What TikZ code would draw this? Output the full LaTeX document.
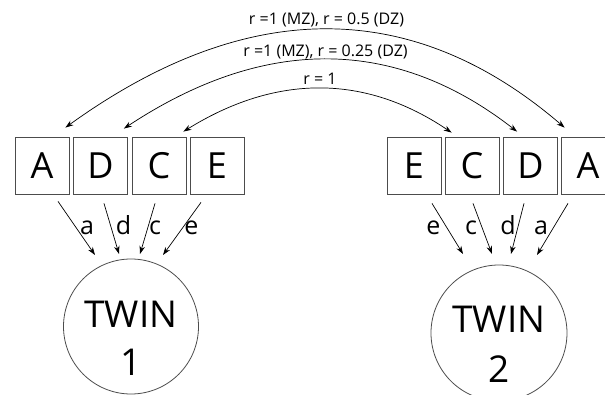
\documentclass[tikz,border=0pt]{standalone}
\usepackage{fontspec}
\setmainfont{Open Sans}
\usetikzlibrary{arrows.meta,calc}
\begin{document}
\begin{tikzpicture}[x=1pt,y=-1pt,
  box/.style={draw=black!70, line width=0.8pt, minimum width=54pt, minimum height=57pt, inner sep=0pt, font=\fontsize{36}{40}\selectfont},
  twin/.style={circle, draw=black!70, line width=0.8pt, minimum size=135pt, inner sep=0pt},
  twintxt/.style={font=\fontsize{37}{44}\selectfont, anchor=base, inner sep=0pt},
  lbl/.style={font=\fontsize{25}{30}\selectfont, anchor=base, inner sep=0pt},
  rlbl/.style={font=\fontsize{16}{19}\selectfont, anchor=base, inner sep=0pt},
  arr/.style={-{Stealth[length=8pt,width=5.5pt]}, line width=0.7pt},
  dbl/.style={{Stealth[length=8pt,width=5.5pt]}-{Stealth[length=8pt,width=5.5pt]}, line width=0.7pt}
]
\clip (0,0) rectangle (605,395);

% boxes
\node[box] (A1) at (42,165.5) {A};
\node[box] (D1) at (100.5,165.5) {D};
\node[box] (C1) at (159,165.5) {C};
\node[box] (E1) at (217,165.5) {E};
\node[box] (E2) at (414,165.5) {E};
\node[box] (C2) at (472,165.5) {C};
\node[box] (D2) at (530.5,165.5) {D};
\node[box] (A2) at (588,165.5) {A};

% twins
\node[twin] (T1) at (131,326.5) {};
\node[twin, minimum size=136pt] (T2) at (499,333) {};
\node[twintxt] (T1a) at ($(T1.center)+(0,0.5)$) {TWIN};
\node[twintxt] (T1b) at ($(T1.center)+(0,48.5)$) {1};
\node[twintxt] (T2a) at ($(T2.center)+(0,-1)$) {TWIN};
\node[twintxt] (T2b) at ($(T2.center)+(0,49)$) {2};

% paths to twin 1
\draw[arr] ($(A1.south)+(16,7)$) -- ($(T1.center)+(-36,-71.5)$);
\draw[arr] ($(D1.south)+(3.5,9)$) -- ($(T1.center)+(-12,-72.5)$);
\draw[arr] ($(C1.south)+(-4,9)$) -- ($(T1.center)+(9,-72.5)$);
\draw[arr] ($(E1.south)+(-16,8)$) -- ($(T1.center)+(32,-71.5)$);
\node[lbl] (la1) at (87,235) {a};
\node[lbl] (ld1) at (123.5,235) {d};
\node[lbl] (lc1) at (155,235) {c};
\node[lbl] (le1) at (191.5,235) {e};

% paths to twin 2
\draw[arr] ($(E2.south)+(18,9)$) -- ($(T2.center)+(-36,-79)$);
\draw[arr] ($(C2.south)+(1,9)$) -- ($(T2.center)+(-7,-79)$);
\draw[arr] ($(D2.south)+(-6.5,9)$) -- ($(T2.center)+(12,-79)$);
\draw[arr] ($(A2.south)+(-20,9)$) -- ($(T2.center)+(38,-78)$);
\node[lbl] (le2) at (433.5,235) {e};
\node[lbl] (lc2) at (471,235) {c};
\node[lbl] (ld2) at (508,235) {d};
\node[lbl] (la2) at (541,235) {a};

% correlation arcs
\coordinate (oL) at ($(A1.north east)+(-4,-9)$);
\coordinate (oR) at ($(A2.north west)+(4,-9)$);
\coordinate (mL) at ($(D1.north east)+(-4,-8)$);
\coordinate (mR) at ($(D2.north west)+(14,-5)$);
\coordinate (iL) at ($(C1.north east)+(-3,-5)$);
\coordinate (iR) at ($(C2.north west)+(7,-4)$);
\draw[dbl] (oL) .. controls +(181.3,-130.7) and +(-152,-130.7) .. (oR);
\draw[dbl] (mL) .. controls +(140.7,-93) and +(-122,-95) .. (mR);
\draw[dbl] (iL) .. controls +(93,-57.7) and +(-86.3,-58.3) .. (iR);
\node[rlbl] (r1) at (326.5,25) {r =1 (MZ), r = 0.5 (DZ)};
\node[rlbl] (r2) at (325.5,56.5) {r =1 (MZ), r = 0.25 (DZ)};
\node[rlbl] (r3) at (320,85) {r = 1};
\end{tikzpicture}
\end{document}
